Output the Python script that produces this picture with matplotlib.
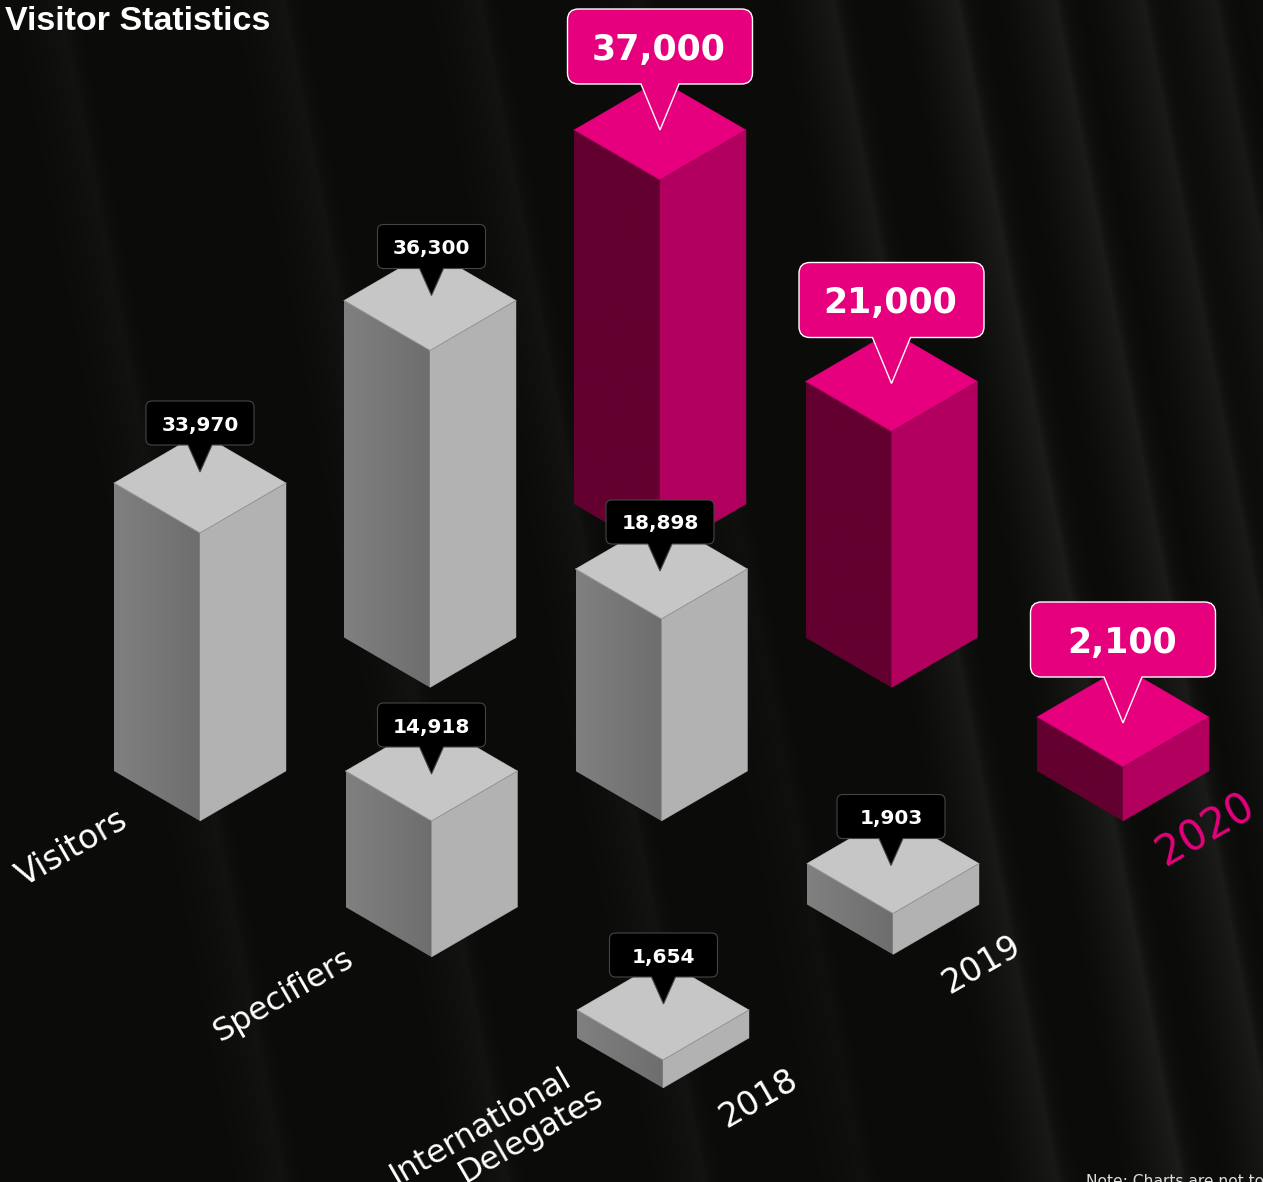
import numpy as np
import matplotlib
matplotlib.use("Agg")
import matplotlib.pyplot as plt
from matplotlib.patches import Polygon, PathPatch
from matplotlib.path import Path

# chart data
categories = ["Visitors", "Specifiers", "International\nDelegates"]
years = ["2018", "2019", "2020"]
visitors = [33970, 36300, 37000]
specifiers = [14918, 18898, 21000]
delegates = [1654, 1903, 2100]

# the chart says it is not to scale, so the height scale is read off the picture
scale_values = [0, 1654, 1903, 2100, 14918, 18898, 21000, 33970, 36300, 37000]
scale_heights = [0, 28, 41, 54, 136, 202, 256, 288, 337, 374]

W, H = 1263, 1182
BG = np.array([11, 12, 9])
PINK = "#e6007e"

# isometric grid
ORIGIN = np.array([200.0, 821.0])
CAT_STEP = np.array([231.5, 133.5])
YEAR_STEP = np.array([230.0, -133.5])
HALF_W, HALF_D = 86, 50

GREY = dict(top="#c6c6c6", left=("#808080", "#6e6e6e"), right="#b2b2b2", line="#8f8f8f")
MAGENTA = dict(top=PINK, left=("#63002f", "#63002f"), right="#b2005f", line="#a0005a")

# hand placement of the bars and callouts, keyed by value
foot_nudge = {14918: 2.5}
box_lift = {33970: 38, 36300: 32, 37000: 46, 14918: 24, 18898: 25, 21000: 44, 1654: 33, 1903: 25, 2100: 40}
box_shift = {36300: 1.5, 18898: -1.5, 1903: -2, 1654: 0.5}

# slanted folds of the backdrop: (right edge, strength), each ramps up to a soft edge
folds = [(60, 7), (283, 8), (480, 8), (640, 5), (833, 14), (957, 17), (1055, 16), (1143, 15), (1215, 14), (1300, 12)]


def value_to_height(v):
    return np.interp(v, scale_values, scale_heights)


def draw_background(ax):
    yy, xx = np.mgrid[0:H, 0:W]
    u = xx - 0.19 * yy
    light = np.zeros((H, W))
    for edge, strength in folds:
        d = edge - u
        ramp = np.where(d >= 0, np.clip(1 - d / 65.0, 0, 1) ** 1.5, np.exp(np.minimum(d, 0) / 8.0))
        light += strength * ramp
    img = np.clip(BG[None, None, :] + light[:, :, None], 0, 255).astype(np.uint8)
    ax.imshow(img, extent=(0, W, H, 0), aspect="auto", zorder=0, interpolation="bilinear")


def draw_bar(ax, foot, height, colors, zorder):
    x, y = foot
    h = height
    cy = y - h - HALF_D  # centre of the top diamond
    top = [(x - HALF_W, cy), (x, cy - HALF_D), (x + HALF_W, cy), (x, cy + HALF_D)]
    left = [(x - HALF_W, cy), (x, cy + HALF_D), (x, y), (x - HALF_W, y - HALF_D)]
    right = [(x + HALF_W, cy), (x, cy + HALF_D), (x, y), (x + HALF_W, y - HALF_D)]

    c0 = np.array(matplotlib.colors.to_rgb(colors["left"][0]))
    c1 = np.array(matplotlib.colors.to_rgb(colors["left"][1]))
    grad = np.linspace(0, 1, 64)[None, :, None] * (c1 - c0) + c0
    im = ax.imshow(grad, extent=(x - HALF_W, x, y, cy - HALF_D), aspect="auto", zorder=zorder)
    im.set_clip_path(Polygon(left, transform=ax.transData))
    ax.add_patch(Polygon(right, fc=colors["right"], ec=colors["right"], lw=0.3, zorder=zorder))
    ax.add_patch(Polygon(top, fc=colors["top"], ec=colors["top"], lw=0.3, zorder=zorder))
    ax.plot([top[0][0], x, top[2][0]], [cy, cy + HALF_D, cy], color=colors["line"], lw=0.6, zorder=zorder)
    return x, cy


def callout_path(x, b, w, h, plen, pw, r):
    # rounded box, b is its bottom edge, the pointer comes down plen below it
    l, rr = x - w / 2, x + w / 2
    t = b - h
    tip_y = b + plen
    verts = [(l + r, t), (rr - r, t), (rr, t), (rr, t + r), (rr, b - r), (rr, b), (rr - r, b),
             (x + pw / 2, b), (x, tip_y), (x - pw / 2, b), (l + r, b), (l, b), (l, b - r),
             (l, t + r), (l, t), (l + r, t), (l + r, t)]
    codes = [Path.MOVETO, Path.LINETO, Path.CURVE3, Path.CURVE3, Path.LINETO, Path.CURVE3, Path.CURVE3,
             Path.LINETO, Path.LINETO, Path.LINETO, Path.LINETO, Path.CURVE3, Path.CURVE3,
             Path.LINETO, Path.CURVE3, Path.CURVE3, Path.CLOSEPOLY]
    return Path(verts, codes), (t + b) / 2


fig = plt.figure(figsize=(W / 100, H / 100), dpi=100)
ax = fig.add_axes([0, 0, 1, 1])
draw_background(ax)

rows = [visitors, specifiers, delegates]
bars = []
for c, row in enumerate(rows):
    for y, val in enumerate(row):
        foot = ORIGIN + c * CAT_STEP + y * YEAR_STEP
        foot[1] += foot_nudge.get(val, 0)
        bars.append((foot, val, y))

# painter's order, the ones furthest back first
bars.sort(key=lambda b: b[0][1])
for i, (foot, val, y) in enumerate(bars):
    z = 2 + i
    highlight = years[y] == "2020"
    bx, cy = draw_bar(ax, foot, value_to_height(val), MAGENTA if highlight else GREY, z)
    bx = bx + box_shift.get(val, 0)
    bottom = cy - box_lift[val]
    if highlight:
        path, ty = callout_path(bx, bottom, 185, 75, 46, 38, 11)
        ax.add_patch(PathPatch(path, fc=PINK, ec="white", lw=1.0, zorder=z + 0.5))
        ax.text(bx - 1, ty, f"{val:,}", color="white", fontsize=25, fontweight="bold",
                ha="center", va="center_baseline", zorder=z + 0.6)
    else:
        path, ty = callout_path(bx, bottom, 108, 44, 27, 24, 6)
        ax.add_patch(PathPatch(path, fc="black", ec="#454545", lw=0.8, zorder=z + 0.5))
        ax.text(bx, ty, f"{val:,}", color="white", fontsize=14.5, fontweight="bold",
                ha="center", va="center_baseline", zorder=z + 0.6)

# axis labels run along the isometric floor
ANGLE = 30
ax.text(72, 848, categories[0], color="white", fontsize=24, rotation=ANGLE, ha="center", va="center",
        rotation_mode="anchor", zorder=30)
ax.text(284, 995, categories[1], color="white", fontsize=23, rotation=ANGLE, ha="center", va="center",
        rotation_mode="anchor", zorder=30)
first, second = categories[2].split("\n")
ax.text(481, 1127, first, color="white", fontsize=23, rotation=ANGLE, ha="center", va="center",
        rotation_mode="anchor", zorder=30)
ax.text(531, 1135, second, color="white", fontsize=23, rotation=ANGLE, ha="center", va="center",
        rotation_mode="anchor", zorder=30)
year_sizes = [24, 24, 30]
for (px, py), label, fs in zip([(759, 1099), (982, 964), (1206, 830)], years, year_sizes):
    ax.text(px, py, label, color=PINK if label == "2020" else "white", fontsize=fs, rotation=ANGLE,
            ha="center", va="center", rotation_mode="anchor", zorder=30)

ax.text(5, 21, "Visitor Statistics", color="white", fontsize=24.5, fontweight="bold", family="Liberation Sans",
        ha="left", va="center", zorder=30)
ax.text(1086, 1174, "Note: Charts are not to scale", color="#dddddd", fontsize=11.2, ha="left", va="top",
        clip_on=True, zorder=30)

ax.set_xlim(0, W)
ax.set_ylim(H, 0)
ax.axis("off")
fig.savefig("out.png", dpi=100, facecolor="#0b0c09")
